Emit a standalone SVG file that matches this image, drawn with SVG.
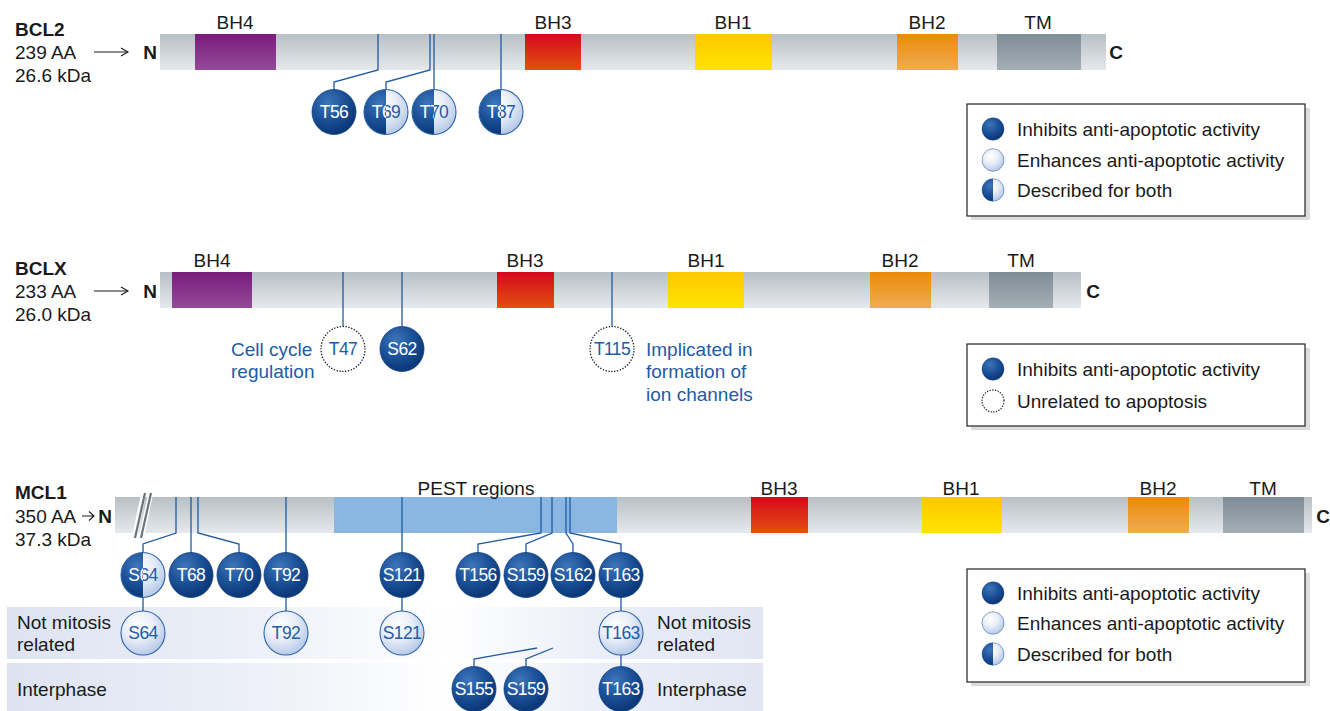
<svg xmlns="http://www.w3.org/2000/svg" width="1330" height="711" viewBox="0 0 1330 711">
<defs>
<style>
text{font-family:"Liberation Sans",Arial,Helvetica,sans-serif;font-size:19px;fill:#1a1a1a}
.b{font-weight:bold}
.m{text-anchor:middle}
.blue{fill:#1d5ca6}
.cl{font-size:17.5px;text-anchor:middle;letter-spacing:-0.6px}
.w{fill:#ffffff}
.lb{fill:#1d5ca6}
.ln{stroke:#1f5aa0;stroke-width:1.3;fill:none}
.dk{fill:url(#gDark);stroke:#0e3c7c;stroke-width:0.8}
.lt{fill:url(#gLight);stroke:none}
.ring{fill:none;stroke:#2a62a8;stroke-width:1.1}
.dot{fill:#ffffff;stroke:#222;stroke-width:1.5;stroke-dasharray:0.1 2.8;stroke-linecap:round}
.lgbox{fill:#ffffff;stroke:#222;stroke-width:1.2}
.shadow{fill:#dcdcdc}
</style>
<linearGradient id="gBar" x1="0" y1="0" x2="0" y2="1"><stop offset="0" stop-color="#b7c0c6"/><stop offset="1" stop-color="#e6e9ec"/></linearGradient>
<linearGradient id="gBH4" x1="0" y1="0" x2="0" y2="1"><stop offset="0" stop-color="#7a1c7c"/><stop offset="1" stop-color="#944a98"/></linearGradient>
<linearGradient id="gBH3" x1="0" y1="0" x2="0" y2="1"><stop offset="0" stop-color="#d5081e"/><stop offset="1" stop-color="#e2500e"/></linearGradient>
<linearGradient id="gBH1" x1="0" y1="0" x2="0" y2="1"><stop offset="0" stop-color="#ffc800"/><stop offset="1" stop-color="#ffe400"/></linearGradient>
<linearGradient id="gBH2" x1="0" y1="0" x2="0" y2="1"><stop offset="0" stop-color="#eb8a08"/><stop offset="1" stop-color="#f0ac52"/></linearGradient>
<linearGradient id="gTM" x1="0" y1="0" x2="0" y2="1"><stop offset="0" stop-color="#7f8d97"/><stop offset="1" stop-color="#a4aeb5"/></linearGradient>
<linearGradient id="gBand" x1="7" y1="0" x2="763" y2="0" gradientUnits="userSpaceOnUse"><stop offset="0" stop-color="#dde3f1"/><stop offset="0.35" stop-color="#eef1f8"/><stop offset="0.58" stop-color="#ffffff"/><stop offset="0.8" stop-color="#e9edf7"/><stop offset="1" stop-color="#e1e6f3"/></linearGradient>
<radialGradient id="gDark" gradientUnits="userSpaceOnUse" cx="-6" cy="-9" r="30"><stop offset="0" stop-color="#3e76ba"/><stop offset="0.55" stop-color="#1c5299"/><stop offset="1" stop-color="#0c397a"/></radialGradient>
<radialGradient id="gLight" gradientUnits="userSpaceOnUse" cx="-5" cy="-8" r="30"><stop offset="0" stop-color="#ffffff"/><stop offset="0.5" stop-color="#e9eef8"/><stop offset="1" stop-color="#b9cbe8"/></radialGradient>
<clipPath id="cL"><rect x="-30" y="-30" width="30" height="60"/></clipPath>
<clipPath id="cR"><rect x="0" y="-30" width="30" height="60"/></clipPath>
<marker id="arr" markerWidth="10" markerHeight="10" refX="8" refY="5" orient="auto" markerUnits="userSpaceOnUse"><path d="M1,1 L8,5 L1,9" fill="none" stroke="#1a1a1a" stroke-width="1.1"/></marker>
</defs>
<rect width="1330" height="711" fill="#ffffff"/>

<!-- ===== BCL2 ===== -->
<g id="bcl2-label">
<text x="15" y="36" class="b">BCL2</text>
<text x="15" y="59">239 AA</text>
<text x="15" y="82">26.6 kDa</text>
<line x1="94" y1="52" x2="128" y2="52" stroke="#1a1a1a" stroke-width="1.1" marker-end="url(#arr)"/>
<text x="150" y="59" class="b m">N</text>
<text x="1116" y="59" class="b m">C</text>
</g>
<g id="bcl2-bar">
<rect x="160" y="34" width="946" height="36" fill="url(#gBar)"/>
<rect x="195" y="34" width="81" height="36" fill="url(#gBH4)"/>
<rect x="525" y="34" width="56" height="36" fill="url(#gBH3)"/>
<rect x="695" y="34" width="77" height="36" fill="url(#gBH1)"/>
<rect x="897" y="34" width="61" height="36" fill="url(#gBH2)"/>
<rect x="997" y="34" width="84" height="36" fill="url(#gTM)"/>
<text x="235" y="29" class="m">BH4</text>
<text x="553" y="29" class="m">BH3</text>
<text x="733" y="29" class="m">BH1</text>
<text x="927" y="29" class="m">BH2</text>
<text x="1038" y="29" class="m">TM</text>
</g>

<!-- ===== BCLX ===== -->
<g id="bclx-label">
<text x="15" y="275" class="b">BCLX</text>
<text x="15" y="298">233 AA</text>
<text x="15" y="321">26.0 kDa</text>
<line x1="94" y1="291" x2="128" y2="291" stroke="#1a1a1a" stroke-width="1.1" marker-end="url(#arr)"/>
<text x="150" y="298" class="b m">N</text>
<text x="1093" y="298" class="b m">C</text>
</g>
<g id="bclx-bar">
<rect x="160" y="272" width="921" height="36" fill="url(#gBar)"/>
<rect x="172" y="272" width="80" height="36" fill="url(#gBH4)"/>
<rect x="497" y="272" width="57" height="36" fill="url(#gBH3)"/>
<rect x="668" y="272" width="76" height="36" fill="url(#gBH1)"/>
<rect x="870" y="272" width="61" height="36" fill="url(#gBH2)"/>
<rect x="989" y="272" width="64" height="36" fill="url(#gTM)"/>
<text x="212" y="267" class="m">BH4</text>
<text x="525" y="267" class="m">BH3</text>
<text x="706" y="267" class="m">BH1</text>
<text x="900" y="267" class="m">BH2</text>
<text x="1021" y="267" class="m">TM</text>
</g>
<g id="bclx-notes">
<text x="231" y="356" class="blue">Cell cycle</text>
<text x="231" y="378" class="blue">regulation</text>
<text x="646" y="356" class="blue">Implicated in</text>
<text x="646" y="378" class="blue">formation of</text>
<text x="646" y="401" class="blue">ion channels</text>
</g>

<!-- ===== MCL1 ===== -->
<g id="mcl1-label">
<text x="15" y="499" class="b">MCL1</text>
<text x="15" y="523">350 AA</text>
<path d="M82,516 L94,516 M89,511.5 L94,516 L89,520.5" fill="none" stroke="#1a1a1a" stroke-width="1.1"/>
<text x="105" y="523" class="b m">N</text>
<text x="15" y="546">37.3 kDa</text>
<text x="1323" y="523" class="b m">C</text>
</g>
<g id="mcl1-bar">
<rect x="115" y="497" width="1197" height="36" fill="url(#gBar)"/>
<rect x="334" y="497" width="283" height="36" fill="#8ab7e2"/>
<rect x="751" y="497" width="57" height="36" fill="url(#gBH3)"/>
<rect x="922" y="497" width="80" height="36" fill="url(#gBH1)"/>
<rect x="1128" y="497" width="61" height="36" fill="url(#gBH2)"/>
<rect x="1223" y="497" width="81" height="36" fill="url(#gTM)"/>
<path d="M144,492 L134,539 M151,492 L141,539" stroke="#ffffff" stroke-width="5"/>
<path d="M145,493 L135,538 M151,493 L141,538" stroke="#6b747a" stroke-width="2.2"/>
<text x="476" y="495" class="m">PEST regions</text>
<text x="779" y="495" class="m">BH3</text>
<text x="961" y="495" class="m">BH1</text>
<text x="1158" y="495" class="m">BH2</text>
<text x="1263" y="495" class="m">TM</text>
</g>
<g id="mcl1-bands">
<rect x="7" y="607" width="756" height="52" fill="url(#gBand)"/>
<rect x="7" y="663" width="756" height="48" fill="url(#gBand)"/>
<text x="17" y="629">Not mitosis</text>
<text x="17" y="651">related</text>
<text x="17" y="696">Interphase</text>
<text x="657" y="629">Not mitosis</text>
<text x="657" y="651">related</text>
<text x="657" y="696">Interphase</text>
</g>

<!-- ===== Connectors ===== -->
<g id="connectors">
<path class="ln" d="M378,34 V70 L334,82 V90"/>
<path class="ln" d="M430,34 V70 L386,82 V90"/>
<path class="ln" d="M434,34 V90" stroke="#5286c4"/>
<path class="ln" d="M501,34 V90"/>
<path class="ln" d="M343,272 V326"/>
<path class="ln" d="M402,272 V326"/>
<path class="ln" d="M612,272 V326"/>
<path class="ln" d="M176,497 V533 L143,544 V553"/>
<path class="ln" d="M191,497 V553"/>
<path class="ln" d="M198,497 V533 L239,544 V553"/>
<path class="ln" d="M286,497 V553"/>
<path class="ln" d="M402,497 V553"/>
<path class="ln" d="M541,497 V533 L478,544 V553"/>
<path class="ln" d="M552,497 V533 L526,544 V553"/>
<path class="ln" d="M566,497 V533 L573,544 V553"/>
<path class="ln" d="M570,497 V533 L621,544 V553"/>
<path class="ln" d="M143,597 V611"/>
<path class="ln" d="M286,597 V611"/>
<path class="ln" d="M402,597 V611"/>
<path class="ln" d="M621,597 V611"/>
<path class="ln" d="M621,654 V666"/>
<path class="ln" d="M474,666 V659 L537,648"/>
<path class="ln" d="M526,666 V659 L553,648"/>
</g>

<!-- ===== Nodes ===== -->
<g id="bcl2-T56" transform="translate(334,112)"><ellipse class="dk" rx="22" ry="22.5"/><text class="cl w" y="6">T56</text></g>
<g id="bcl2-T69" transform="translate(386,112)"><ellipse class="lt" rx="22" ry="22.5"/><path d="M0,-22.5 A22,22.5 0 0 0 0,22.5 Z" fill="url(#gDark)"/><ellipse class="ring" rx="22" ry="22.5"/><text class="cl w" y="6" clip-path="url(#cL)">T69</text><text class="cl lb" y="6" clip-path="url(#cR)">T69</text></g>
<g id="bcl2-T70" transform="translate(434,112)"><ellipse class="lt" rx="22" ry="22.5"/><path d="M0,-22.5 A22,22.5 0 0 0 0,22.5 Z" fill="url(#gDark)"/><ellipse class="ring" rx="22" ry="22.5"/><text class="cl w" y="6" clip-path="url(#cL)">T70</text><text class="cl lb" y="6" clip-path="url(#cR)">T70</text></g>
<g id="bcl2-T87" transform="translate(501,112)"><ellipse class="lt" rx="22" ry="22.5"/><path d="M0,-22.5 A22,22.5 0 0 0 0,22.5 Z" fill="url(#gDark)"/><ellipse class="ring" rx="22" ry="22.5"/><text class="cl w" y="6" clip-path="url(#cL)">T87</text><text class="cl lb" y="6" clip-path="url(#cR)">T87</text></g>

<g id="bclx-T47" transform="translate(343,349)"><ellipse class="dot" rx="22" ry="22.5"/><text class="cl lb" y="6">T47</text></g>
<g id="bclx-S62" transform="translate(402,349)"><ellipse class="dk" rx="22" ry="22.5"/><text class="cl w" y="6">S62</text></g>
<g id="bclx-T115" transform="translate(612,349)"><ellipse class="dot" rx="22" ry="22.5"/><text class="cl lb" y="6">T115</text></g>

<g id="mcl1-S64" transform="translate(143,575)"><ellipse class="lt" rx="22" ry="22.5"/><path d="M0,-22.5 A22,22.5 0 0 0 0,22.5 Z" fill="url(#gDark)"/><ellipse class="ring" rx="22" ry="22.5"/><text class="cl w" y="6" clip-path="url(#cL)">S64</text><text class="cl lb" y="6" clip-path="url(#cR)">S64</text></g>
<g id="mcl1-T68" transform="translate(191,575)"><ellipse class="dk" rx="22" ry="22.5"/><text class="cl w" y="6">T68</text></g>
<g id="mcl1-T70" transform="translate(239,575)"><ellipse class="dk" rx="22" ry="22.5"/><text class="cl w" y="6">T70</text></g>
<g id="mcl1-T92" transform="translate(286,575)"><ellipse class="dk" rx="22" ry="22.5"/><text class="cl w" y="6">T92</text></g>
<g id="mcl1-S121" transform="translate(402,575)"><ellipse class="dk" rx="22" ry="22.5"/><text class="cl w" y="6">S121</text></g>
<g id="mcl1-T156" transform="translate(478,575)"><ellipse class="dk" rx="22" ry="22.5"/><text class="cl w" y="6">T156</text></g>
<g id="mcl1-S159" transform="translate(526,575)"><ellipse class="dk" rx="22" ry="22.5"/><text class="cl w" y="6">S159</text></g>
<g id="mcl1-S162" transform="translate(573,575)"><ellipse class="dk" rx="22" ry="22.5"/><text class="cl w" y="6">S162</text></g>
<g id="mcl1-T163" transform="translate(621,575)"><ellipse class="dk" rx="22" ry="22.5"/><text class="cl w" y="6">T163</text></g>

<g id="mcl1-S64-nm" transform="translate(143,633)"><ellipse class="lt" rx="22" ry="22"/><ellipse class="ring" rx="22" ry="22"/><text class="cl lb" y="6">S64</text></g>
<g id="mcl1-T92-nm" transform="translate(286,633)"><ellipse class="lt" rx="22" ry="22"/><ellipse class="ring" rx="22" ry="22"/><text class="cl lb" y="6">T92</text></g>
<g id="mcl1-S121-nm" transform="translate(402,633)"><ellipse class="lt" rx="22" ry="22"/><ellipse class="ring" rx="22" ry="22"/><text class="cl lb" y="6">S121</text></g>
<g id="mcl1-T163-nm" transform="translate(621,633)"><ellipse class="lt" rx="22" ry="22"/><ellipse class="ring" rx="22" ry="22"/><text class="cl lb" y="6">T163</text></g>

<g id="mcl1-S155-ip" transform="translate(474,689)"><ellipse class="dk" rx="22" ry="22.5"/><text class="cl w" y="6">S155</text></g>
<g id="mcl1-S159-ip" transform="translate(526,689)"><ellipse class="dk" rx="22" ry="22.5"/><text class="cl w" y="6">S159</text></g>
<g id="mcl1-T163-ip" transform="translate(621,689)"><ellipse class="dk" rx="22" ry="22.5"/><text class="cl w" y="6">T163</text></g>

<!-- ===== Legends ===== -->
<g id="legend-bcl2">
<rect class="shadow" x="971" y="108" width="339" height="112"/>
<rect class="lgbox" x="967" y="104" width="338" height="112"/>
<g transform="translate(993,129) scale(0.5)"><ellipse class="dk" rx="22" ry="22.5"/></g>
<g transform="translate(993,160) scale(0.5)"><ellipse class="lt" rx="22" ry="22.5"/><ellipse class="ring" rx="22" ry="22.5" stroke-width="2"/></g>
<g transform="translate(993,190) scale(0.5)"><ellipse class="lt" rx="22" ry="22.5"/><path d="M0,-22.5 A22,22.5 0 0 0 0,22.5 Z" fill="url(#gDark)"/><ellipse class="ring" rx="22" ry="22.5" stroke-width="2"/></g>
<text x="1017" y="136">Inhibits anti-apoptotic activity</text>
<text x="1017" y="167">Enhances anti-apoptotic activity</text>
<text x="1017" y="197">Described for both</text>
</g>
<g id="legend-bclx">
<rect class="shadow" x="971" y="348" width="339" height="82"/>
<rect class="lgbox" x="967" y="344" width="338" height="82"/>
<g transform="translate(993,369) scale(0.5)"><ellipse class="dk" rx="22" ry="22.5"/></g>
<ellipse cx="993" cy="401" rx="11" ry="11" fill="#ffffff" stroke="#222" stroke-width="1.4" stroke-dasharray="0.1 2.6" stroke-linecap="round"/>
<text x="1017" y="376">Inhibits anti-apoptotic activity</text>
<text x="1017" y="408">Unrelated to apoptosis</text>
</g>
<g id="legend-mcl1">
<rect class="shadow" x="971" y="573" width="339" height="113"/>
<rect class="lgbox" x="967" y="569" width="338" height="113"/>
<g transform="translate(993,593) scale(0.5)"><ellipse class="dk" rx="22" ry="22.5"/></g>
<g transform="translate(993,623) scale(0.5)"><ellipse class="lt" rx="22" ry="22.5"/><ellipse class="ring" rx="22" ry="22.5" stroke-width="2"/></g>
<g transform="translate(993,654) scale(0.5)"><ellipse class="lt" rx="22" ry="22.5"/><path d="M0,-22.5 A22,22.5 0 0 0 0,22.5 Z" fill="url(#gDark)"/><ellipse class="ring" rx="22" ry="22.5" stroke-width="2"/></g>
<text x="1017" y="600">Inhibits anti-apoptotic activity</text>
<text x="1017" y="630">Enhances anti-apoptotic activity</text>
<text x="1017" y="661">Described for both</text>
</g>
</svg>
